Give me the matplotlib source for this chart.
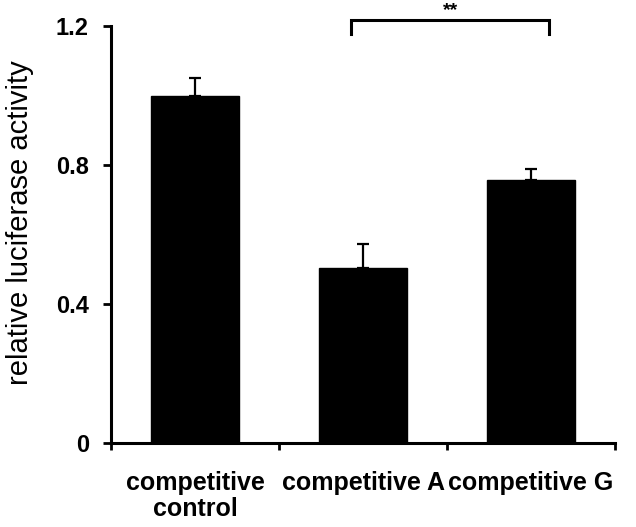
import matplotlib
matplotlib.use("Agg")
import matplotlib.pyplot as plt

categories = ["competitive\ncontrol", "competitive A", "competitive G"]
values = [1.0, 0.504, 0.757]
errors = [0.05, 0.07, 0.032]
yticks = [0, 0.4, 0.8, 1.2]
ytick_labels = ["0", "0.4", "0.8", "1.2"]
sig_label = "**"

plt.rcParams['font.family'] = ['Liberation Sans', 'DejaVu Sans']

fig = plt.figure(figsize=(6.36, 5.27), dpi=100)
ax = fig.add_axes([111/636, 1-443/527, (615-111)/636, (443-26)/527])

x = list(range(len(categories)))
ax.bar(x, values, width=0.524, color='black', edgecolor='black', zorder=2)
ax.errorbar(x, values, yerr=[[0]*len(values), errors], fmt='none', ecolor='black',
            elinewidth=1.6, capsize=4.5, capthick=1.6, zorder=1)

ax.set_xlim(-0.5, 2.5)
ax.set_ylim(0, 1.2)
ax.set_yticks(yticks)
ax.set_yticklabels(ytick_labels, fontsize=17, fontweight='bold')
ax.set_xticks([-0.5, 0.5, 1.5, 2.5])
ax.set_xticklabels([])
ax.set_xticks(x, minor=True)
ax.set_xticklabels(categories, minor=True, fontsize=18, fontweight='bold', linespacing=1.1)
ax.tick_params(axis='x', which='minor', length=0, pad=20)
ax.tick_params(axis='x', which='major', length=5, width=2, direction='out')
ax.tick_params(axis='y', length=6, width=2, direction='out', pad=10)

fig.text(20/636, 1-223/527, "relative luciferase activity", rotation=90,
         ha='center', va='center', fontsize=21)

for s in ['top', 'right']:
    ax.spines[s].set_visible(False)
for s in ['left', 'bottom']:
    ax.spines[s].set_linewidth(2.2)

# significance bracket
bx0, bx1 = 0.93, 2.107
by, bh = 1.218, 0.04
ax.plot([bx0, bx0, bx1, bx1], [by - bh, by, by, by - bh], color='black', lw=2.2,
        clip_on=False, solid_joinstyle='miter')
ax.text((bx0 + bx1) / 2, by + 0.002, sig_label, ha='center', va='bottom',
        fontsize=14, fontweight='bold')

fig.savefig("out.png", dpi=100)
